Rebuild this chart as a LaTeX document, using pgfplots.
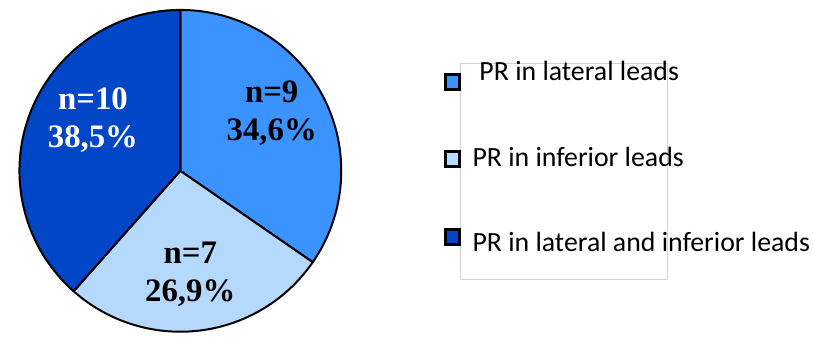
\documentclass[border=0pt]{standalone}
\usepackage{pgfplots}
\pgfplotsset{compat=1.18}
\usepackage{fontspec}
\setmainfont{Liberation Serif}
\newfontfamily\calibri{Carlito}
\definecolor{latc}{RGB}{59,147,255}
\definecolor{infc}{RGB}{181,217,253}
\definecolor{bothc}{RGB}{0,70,198}
\definecolor{boxc}{RGB}{208,208,208}
\begin{document}
\begin{tikzpicture}
% counts per group
\pgfmathsetmacro{\nA}{9}
\pgfmathsetmacro{\nB}{7}
\pgfmathsetmacro{\nC}{10}
\pgfmathsetmacro{\tot}{\nA+\nB+\nC}
\pgfmathsetmacro{\aA}{90-360*\nA/\tot}
\pgfmathsetmacro{\aB}{\aA-360*\nB/\tot}
\pgfmathsetmacro{\aC}{\aB-360*\nC/\tot}
\begin{axis}[x=1pt,y=1pt,xmin=0,xmax=813,ymin=0,ymax=336,hide axis,scale only axis,clip=false]
\path (rel axis cs:0,0) (rel axis cs:1,1);
% pie slices
\filldraw[fill=latc,draw=black,line width=2pt,line join=round] (axis cs:176,164) -- ++(90:162pt) arc[start angle=90,end angle=\aA,radius=162pt] -- cycle;
\filldraw[fill=infc,draw=black,line width=2pt,line join=round] (axis cs:176,164) -- ++(\aA:162pt) arc[start angle=\aA,end angle=\aB,radius=162pt] -- cycle;
\filldraw[fill=bothc,draw=black,line width=2pt,line join=round] (axis cs:176,164) -- ++(\aB:162pt) arc[start angle=\aB,end angle=\aC,radius=162pt] -- cycle;
% slice labels
\node[font=\bfseries\fontsize{33}{38}\selectfont,align=center,text=black] at (axis cs:268,222) {n=9\\34,6\%};
\node[font=\bfseries\fontsize{33}{38}\selectfont,align=center,text=black] at (axis cs:186,60) {n=7\\26,9\%};
\node[font=\bfseries\fontsize{33}{38}\selectfont,align=center,text=white] at (axis cs:88,215) {n=10\\38,5\%};
% legend frame
\draw[boxc,line width=0.8pt] (axis cs:458,55) rectangle (axis cs:666,272);
% legend markers
\addplot[only marks,mark=square*,mark size=7.5pt,mark options={scale=1,fill=latc,draw=black,line width=3pt}] coordinates {(450,253)};
\addplot[only marks,mark=square*,mark size=7.5pt,mark options={scale=1,fill=infc,draw=black,line width=3pt}] coordinates {(450,176)};
\addplot[only marks,mark=square*,mark size=7.5pt,mark options={scale=1,fill=bothc,draw=black,line width=3pt}] coordinates {(450,97)};
% legend texts
\node[anchor=base west,font=\calibri\fontsize{28}{34}\selectfont,inner sep=0pt] at (axis cs:477,255) {PR in lateral leads};
\node[anchor=base west,font=\calibri\fontsize{28}{34}\selectfont,inner sep=0pt] at (axis cs:470,168) {PR in inferior leads};
\node[anchor=base west,font=\calibri\fontsize{28}{34}\selectfont,inner sep=0pt] at (axis cs:470,83) {PR in lateral and inferior leads};
\end{axis}
\end{tikzpicture}
\end{document}
